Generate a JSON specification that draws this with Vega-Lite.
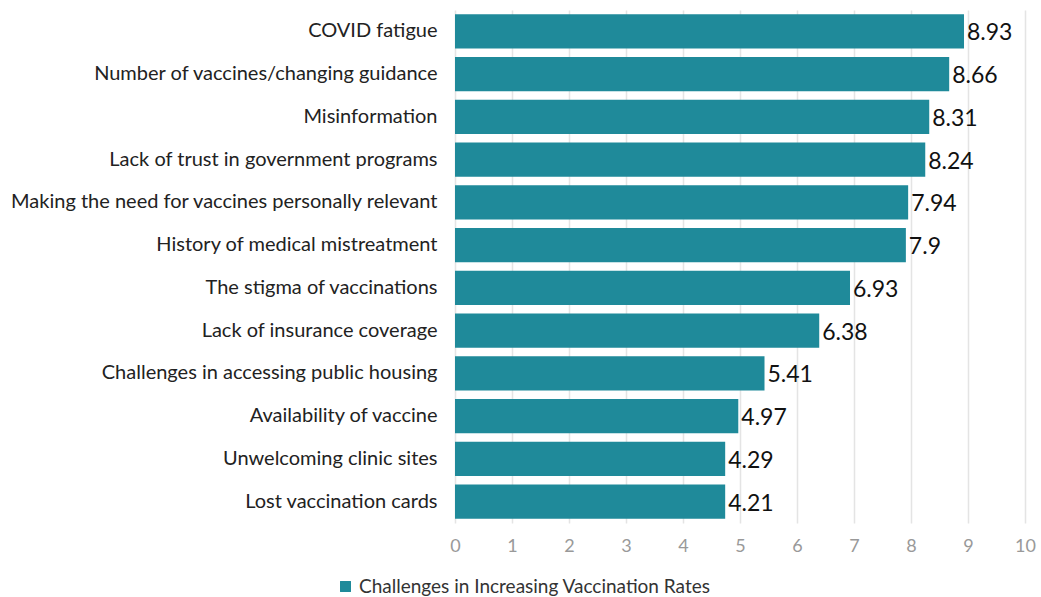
{
  "$schema": "https://vega.github.io/schema/vega-lite/v6.json",
  "autosize": {"type": "none"},
  "width": 570,
  "height": 513,
  "padding": {"left": 455, "top": 10, "right": 16, "bottom": 74},
  "background": "white",
  "config": {"view": {"stroke": null}, "font": "Lato"},
  "data": {"values": [
    {"challenge": "COVID fatigue ", "bar": 8.93, "label": "8.93"},
    {"challenge": "Number of vaccines/changing guidance", "bar": 8.67, "label": "8.66"},
    {"challenge": "Misinformation", "bar": 8.32, "label": "8.31"},
    {"challenge": "Lack of trust in government programs", "bar": 8.25, "label": "8.24"},
    {"challenge": "Making the need for vaccines personally relevant", "bar": 7.95, "label": "7.94"},
    {"challenge": "History of medical mistreatment", "bar": 7.91, "label": "7.9"},
    {"challenge": "The stigma of vaccinations", "bar": 6.93, "label": "6.93"},
    {"challenge": "Lack of insurance coverage", "bar": 6.39, "label": "6.38"},
    {"challenge": "Challenges in accessing public housing", "bar": 5.43, "label": "5.41"},
    {"challenge": "Availability of vaccine", "bar": 4.97, "label": "4.97"},
    {"challenge": "Unwelcoming clinic sites", "bar": 4.74, "label": "4.29"},
    {"challenge": "Lost vaccination cards", "bar": 4.74, "label": "4.21"}
  ]},
  "encoding": {
    "y": {"field": "challenge", "type": "nominal", "sort": null,
      "scale": {"paddingInner": 0.2, "paddingOuter": 0.1},
      "axis": {"title": null, "domain": false, "ticks": false, "labelPadding": 18, "labelFontSize": 20, "labelColor": "#222", "labelLimit": 0}},
    "x": {"field": "bar", "type": "quantitative",
      "scale": {"domain": [0, 10], "nice": false},
      "axis": {"title": null, "domain": false, "ticks": false, "values": [0,1,2,3,4,5,6,7,8,9,10], "labelOverlap": false, "labelFlush": false, "labelPadding": 14, "labelFontSize": 18, "labelColor": "#999", "gridColor": "#e4e4e4", "gridWidth": 1.5}}
  },
  "layer": [
    {"mark": {"type": "bar"},
     "encoding": {
       "color": {"datum": "Challenges in Increasing Vaccination Rates", "type": "nominal",
         "scale": {"range": ["#1f8a9a"]},
         "legend": {"title": null, "orient": "none", "legendX": -119, "legendY": 567, "symbolType": "square", "symbolSize": 120, "symbolStrokeWidth": 0, "labelFontSize": 19, "labelColor": "#333", "labelLimit": 0, "labelOffset": 4, "padding": 0, "symbolOffset": 0}}
     }},
    {"mark": {"type": "text", "align": "left", "baseline": "middle", "dx": 3, "dy": 2, "fontSize": 23, "color": "#111"},
     "encoding": {"text": {"field": "label"}}}
  ]
}
